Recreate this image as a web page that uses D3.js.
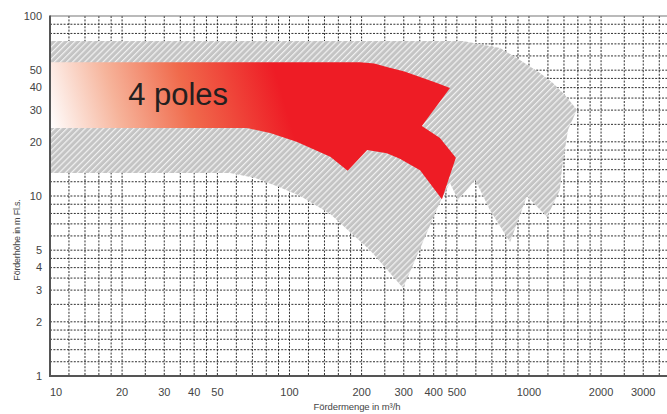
<!DOCTYPE html>
<html><head><meta charset="utf-8">
<script src="https://cdn.jsdelivr.net/npm/d3@7"></script>
<style>body{margin:0;background:#fff}svg{display:block;font-family:"Liberation Sans",Arial,sans-serif}</style>
</head><body><svg id="c" width="667" height="414"></svg>
<script>
// ---- data (Q in m3/h, H in m) ----
const xTickLabels = [10,20,30,40,50,100,200,300,400,500,1000,2000,3000];
const yTickLabels = [1,2,3,4,5,10,20,30,40,50,100];
const gridMultipliers = [1,1.2,1.4,1.6,1.8,2,2.5,3,3.5,4,4.5,5,6,7,8,9];
const xDecades = [10,100,1000];
const yDecades = [1,10];
// outer (hatched) operating range envelope
const hatchQ = [10,530,757,916,1112,1259,1413,1585,1455,1374,1346,1189,981,834,687,596,506,468,429,298,217,179,148,111,91,72,56.5,10];
const hatchH = [72.6,72.6,66.4,57,48.2,42.4,36.4,30.1,23.3,14.3,10.8,7.64,10,5.55,8.36,12.3,9.5,11.8,9.5,3.08,5.0,6.3,7.94,10,11.2,12.6,13.4,13.4];
// 4-pole (red) range
const redQ = [10,197,226,255,302,351,410,468,357,425,495,433,351,289,255,211,175,148,107,83,66.4,10];
const redH = [55.3,55.3,54.5,52.1,49.2,45.8,42.6,39.8,24.5,21,16.3,9.6,13.9,16.1,17.3,18.0,13.8,16.5,20,22.4,23.9,23.9];
const seriesLabel = "4 poles";

const svg = d3.select("#c");
const L=50, R=667, T=16, B=376;
const x = d3.scaleLog().domain([10,3770]).range([L,R]);
const y = d3.scaleLog().domain([1,100]).range([B,T]);

// grid
const xGrid=[], yGrid=[];
xDecades.forEach(d=>gridMultipliers.forEach(m=>{const v=d*m; if(v>10&&v<3770) xGrid.push(v);}));
yDecades.forEach(d=>gridMultipliers.forEach(m=>{const v=d*m; if(v>1&&v<100) yGrid.push(v);}));
const g = svg.append("g");
g.selectAll("line.gx").data(xGrid).join("line")
 .attr("x1",d=>x(d)).attr("x2",d=>x(d)).attr("y1",T).attr("y2",B)
 .attr("stroke","#1a1a1a").attr("stroke-width",0.9).attr("stroke-dasharray","2,1.4");
g.selectAll("line.gy").data(yGrid).join("line")
 .attr("x1",L).attr("x2",R).attr("y1",d=>y(d)).attr("y2",d=>y(d))
 .attr("stroke","#1a1a1a").attr("stroke-width",0.9).attr("stroke-dasharray","2,1.4");

// defs
const defs = svg.append("defs");
const pat = defs.append("pattern").attr("id","hatch").attr("patternUnits","userSpaceOnUse")
 .attr("width",4.3).attr("height",10).attr("patternTransform","rotate(45)");
pat.append("rect").attr("width",4.3).attr("height",10).attr("fill","#c4c4c4");
pat.append("rect").attr("width",1.2).attr("height",10).attr("fill","#f2f2f2");
const grad = defs.append("linearGradient").attr("id","redgrad").attr("gradientUnits","userSpaceOnUse")
 .attr("x1",52).attr("y1",135).attr("x2",275).attr("y2",70);
[[0,"#ffffff"],[0.3,"#f6b39a"],[0.6,"#f06a4c"],[1,"#ee1c25"]].forEach(s=>grad.append("stop").attr("offset",s[0]).attr("stop-color",s[1]));

const line = d3.line().x(d=>x(d[0])).y(d=>y(d[1]));
svg.append("path").attr("d",line(d3.zip(hatchQ,hatchH))+"Z").attr("fill","url(#hatch)");
svg.append("path").attr("d",line(d3.zip(redQ,redH))+"Z").attr("fill","url(#redgrad)");

svg.append("text").attr("x",x(21.2)).attr("y",y(32)).attr("font-size",31).attr("fill","#231f20").text(seriesLabel);

// frame
svg.append("line").attr("x1",L).attr("x2",R).attr("y1",T).attr("y2",T).attr("stroke","#777").attr("stroke-width",1.2);
svg.append("line").attr("x1",L).attr("x2",L).attr("y1",T-0.5).attr("y2",B+1).attr("stroke","#555").attr("stroke-width",2);
svg.append("line").attr("x1",L-1).attr("x2",R).attr("y1",B).attr("y2",B).attr("stroke","#555").attr("stroke-width",2);

// tick labels
svg.selectAll("text.yt").data(yTickLabels).join("text")
 .attr("x",42).attr("y",d=>y(d)).attr("dy","0.35em").attr("text-anchor","end")
 .attr("font-size",11).attr("fill","#444").text(d=>d);
svg.selectAll("text.xt").data(xTickLabels).join("text")
 .attr("x",(d,i)=>i===0?x(d)+6:x(d)).attr("y",392).attr("dy","0.35em").attr("text-anchor","middle")
 .attr("font-size",11).attr("fill","#444").text(d=>d);

// axis titles
svg.append("text").attr("transform","translate(20,240) rotate(-90)").attr("text-anchor","middle")
 .attr("font-size",9).attr("fill","#444").attr("letter-spacing",-0.2).text("Förderhöhe in m Fl.s.");
svg.append("text").attr("x",357).attr("y",410).attr("text-anchor","middle")
 .attr("font-size",9.5).attr("fill","#444").attr("letter-spacing",-0.1).text("Fördermenge in m³/h");
</script></body></html>
